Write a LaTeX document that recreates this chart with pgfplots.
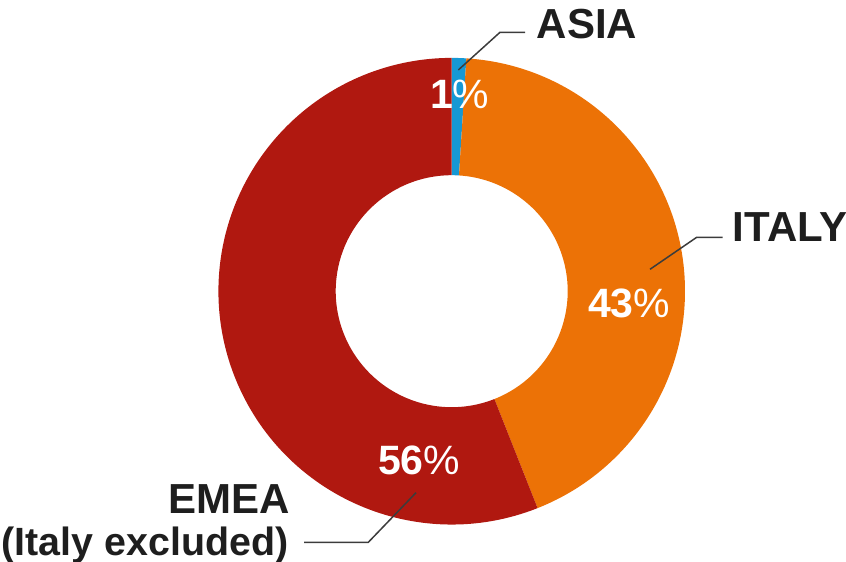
\documentclass[border=0pt]{standalone}
\usepackage{pgfplots}
\pgfplotsset{compat=1.18}
\usepackage{pgfplotstable}
\usepackage{fontspec}
\setmainfont{Liberation Sans}

\definecolor{emea}{RGB}{176,24,16}
\definecolor{italy}{RGB}{236,114,6}
\definecolor{asia}{RGB}{22,152,212}
\definecolor{ink}{RGB}{30,30,30}
\definecolor{leader}{RGB}{60,60,60}

% shares in percent, clockwise from 12 o'clock
\pgfplotstableread{
region value
ASIA   1
ITALY  43
EMEA   56
}\shares

\begin{document}
\begin{tikzpicture}
\pgfplotstablegetelem{0}{value}\of\shares \let\vAsia\pgfplotsretval
\pgfplotstablegetelem{1}{value}\of\shares \let\vItaly\pgfplotsretval
\pgfplotstablegetelem{2}{value}\of\shares \let\vEmea\pgfplotsretval
\pgfmathsetmacro\aA{90-3.6*\vAsia}
\pgfmathsetmacro\aB{\aA-3.6*\vItaly}
\pgfmathsetmacro\aC{\aB-3.6*\vEmea}
\def\cx{451.7}\def\cy{270.8}\def\Ro{233.3}\def\Ri{116}
\newcommand\slice[3]{%
  \fill[#1] (axis cs:\cx,\cy) ++(#2:\Ro pt)
    arc[start angle=#2, end angle=#3, radius=\Ro pt]
    -- ([shift={(#3:\Ri pt)}]axis cs:\cx,\cy)
    arc[start angle=#3, end angle=#2, radius=\Ri pt] -- cycle;}
\newcommand\pct[1]{#1{\mdseries\%}}
\useasboundingbox (0,0) rectangle (846pt,562pt);
\begin{axis}[
  at={(0,0)}, anchor=south west,
  width=846pt, height=562pt, scale only axis,
  xmin=0, xmax=846, ymin=0, ymax=562,
  hide axis, clip=false,
]
\slice{asia}{90}{\aA}
\slice{italy}{\aA}{\aB}
\slice{emea}{\aB}{\aC}

% percentages
\begin{scope}[every node/.style={inner sep=0, text=white, font=\bfseries\fontsize{41}{41}\selectfont}]
\node[anchor=base] at (axis cs:459.7,453.7) {\pct{\vAsia}};
\node[anchor=base] at (axis cs:629.2,244) {\pct{\vItaly}};
\node[anchor=base] at (axis cs:419.2,87) {\pct{\vEmea}};
\end{scope}

% leader lines
\draw[leader, line width=1.5pt] (axis cs:458.3,492) -- (axis cs:500,529.7) -- (axis cs:525,529.7);
\draw[leader, line width=1.5pt] (axis cs:650,292.7) -- (axis cs:696.7,324.7) -- (axis cs:722.7,324.7);
\draw[leader, line width=1.5pt] (axis cs:416,69.3) -- (axis cs:368.3,19.7) -- (axis cs:304,19.7);

% region names
\begin{scope}[every node/.style={inner sep=0, text=ink, font=\bfseries\fontsize{42}{42}\selectfont}]
\node[anchor=base] at (axis cs:587,523.7) {ASIA};
\node[anchor=base west] at (axis cs:732.7,320.3) {ITALY};
\node[anchor=base east] at (axis cs:290,48.7) {EMEA};
\node[anchor=base east, font=\bfseries\fontsize{39.4}{40}\selectfont] at (axis cs:288.5,7) {(Italy excluded)};
\end{scope}
\end{axis}
\end{tikzpicture}
\end{document}
